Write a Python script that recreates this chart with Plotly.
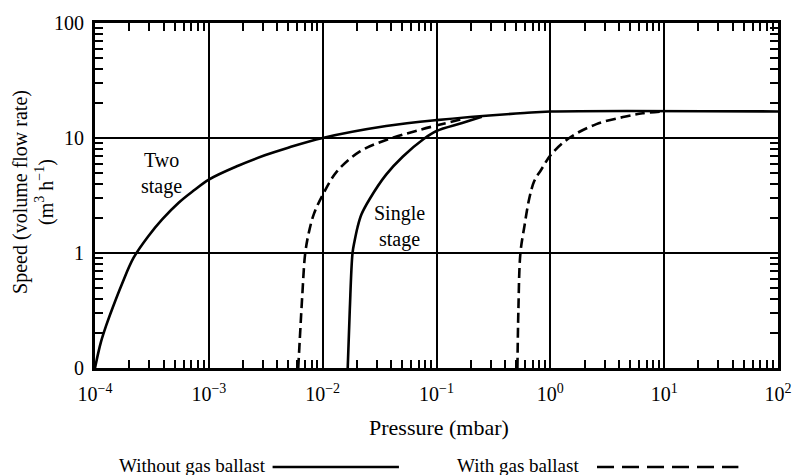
import plotly.graph_objects as go

# ---- data (pressure in mbar, speed in m^3/h) ----
two_stage_p = [1e-4, 1.062e-4, 1.127e-4, 1.246e-4, 1.432e-4, 1.715e-4, 2.178e-4, 2.94e-4, 3.89e-4,
               5.46e-4, 7.36e-4, 1e-3, 1.81e-3, 3.1e-3, 4.9e-3, 1e-2, 3.61e-2, 0.1, 0.59, 1.0, 100]
two_stage_s = [0.1, 0.132, 0.168, 0.230, 0.336, 0.530, 0.906, 1.40, 1.96,
               2.75, 3.49, 4.35, 5.74, 7.07, 8.2, 10.0, 12.7, 14.3, 16.5, 17.0, 17.0]

two_stage_gb_p = [6.1e-3, 6.36e-3, 6.62e-3, 7.03e-3, 7.61e-3, 8.41e-3, 1e-2, 1.33e-2, 2.11e-2,
                  3.61e-2, 6.98e-2, 0.168]
two_stage_gb_s = [0.1, 0.213, 0.426, 1.0, 1.55, 2.21, 3.2, 5.1, 7.6, 9.6, 11.7, 14.6]

single_stage_p = [0.0166, 0.0173, 0.0183, 0.01907, 0.02025, 0.02193, 0.02573, 0.0361, 0.0507,
                  0.0771, 0.1, 0.168, 0.25]
single_stage_s = [0.1, 0.316, 1.0, 1.27, 1.675, 2.17, 2.92, 4.8, 6.9, 9.8, 11.5, 13.5, 15.3]

single_stage_gb_p = [0.514, 0.524, 0.546, 0.592, 0.653, 0.721, 0.831, 1.03, 1.51, 2.54, 4.35, 6.49, 9.7]
single_stage_gb_s = [0.1, 0.316, 1.0, 1.71, 2.98, 4.2, 5.3, 7.3, 10.2, 13.2, 15.2, 16.4, 17.0]

x_tick_vals = [1e-4, 1e-3, 1e-2, 1e-1, 1e0, 1e1, 1e2]
x_tick_text = ["10<sup>−4</sup>", "10<sup>−3</sup>", "10<sup>−2</sup>", "10<sup>−1</sup>",
               "10<sup>0</sup>", "10<sup>1</sup>", "10<sup>2</sup>"]
y_tick_vals = [0.1, 1, 10, 100]
y_tick_text = ["0", "1", "10", "100"]

x_minor = [k * 10.0 ** e for e in range(-4, 2) for k in range(2, 10)]
y_minor = [k * 10.0 ** e for e in range(-1, 2) for k in range(2, 10)]

FONT = "Liberation Serif"
LW = 2.6
SM = 1.0

fig = go.Figure()
fig.add_trace(go.Scatter(x=two_stage_p, y=two_stage_s, mode="lines",
                         line=dict(color="black", width=LW, shape="spline", smoothing=SM)))
fig.add_trace(go.Scatter(x=two_stage_gb_p, y=two_stage_gb_s, mode="lines",
                         line=dict(color="black", width=LW, dash="10px,5px", shape="spline", smoothing=SM)))
fig.add_trace(go.Scatter(x=single_stage_p, y=single_stage_s, mode="lines",
                         line=dict(color="black", width=LW, shape="spline", smoothing=SM)))
fig.add_trace(go.Scatter(x=single_stage_gb_p, y=single_stage_gb_s, mode="lines",
                         line=dict(color="black", width=LW, dash="10px,5px", shape="spline", smoothing=SM)))

axis_common = dict(
    showline=True, linecolor="black", linewidth=3, mirror="allticks",
    showgrid=True, gridcolor="black", gridwidth=1.5,
    ticks="inside", ticklen=9, tickwidth=1.5, tickcolor="black",
    zeroline=False,
    tickfont=dict(family=FONT, size=20, color="black"),
)

fig.update_xaxes(type="log", range=[-4, 2], tickmode="array", tickvals=x_tick_vals, ticktext=x_tick_text,
                 minor=dict(tickmode="array", tickvals=x_minor, ticks="inside", ticklen=8, tickwidth=1.5,
                            tickcolor="black", showgrid=False),
                 ticklabelstandoff=6, **axis_common)
fig.update_yaxes(type="log", range=[-1, 2], tickmode="array", tickvals=y_tick_vals, ticktext=y_tick_text,
                 minor=dict(tickmode="array", tickvals=y_minor, ticks="inside", ticklen=8, tickwidth=1.5,
                            tickcolor="black", showgrid=False),
                 ticklabelstandoff=4, **axis_common)

annos = [
    dict(x=-3.419, y=0.69, xref="x", yref="y", text="Two<br>stage", showarrow=False,
         font=dict(family=FONT, size=20, color="black")),
    dict(x=-1.329, y=0.233, xref="x", yref="y", text="Single<br>stage", showarrow=False,
         font=dict(family=FONT, size=20, color="black")),
    dict(x=0.504, y=-0.172, xref="paper", yref="paper", text="Pressure (mbar)", showarrow=False,
         xanchor="center", yanchor="middle", font=dict(family=FONT, size=22, color="black")),
    dict(x=-0.091, y=0.51, xref="paper", yref="paper", text="Speed (volume flow rate)<br>(m<sup>3</sup> h<sup>−1</sup>)",
         showarrow=False, textangle=-90, xanchor="center", yanchor="middle",
         font=dict(family=FONT, size=20, color="black")),
    dict(x=0.253, y=-0.282, xref="paper", yref="paper", text="Without gas ballast", showarrow=False,
         xanchor="right", yanchor="middle", font=dict(family=FONT, size=19, color="black")),
    dict(x=0.712, y=-0.282, xref="paper", yref="paper", text="With gas ballast", showarrow=False,
         xanchor="right", yanchor="middle", font=dict(family=FONT, size=19, color="black")),
]

shapes = [
    dict(type="line", xref="paper", yref="paper", x0=0.260, x1=0.445, y0=-0.287, y1=-0.287,
         line=dict(color="black", width=2.6)),
    dict(type="line", xref="paper", yref="paper", x0=0.735, x1=0.942, y0=-0.287, y1=-0.287,
         line=dict(color="black", width=2.6, dash="17px,8px")),
]

fig.update_layout(
    width=804, height=475,
    margin=dict(l=95, r=17, t=20, b=107),
    plot_bgcolor="white", paper_bgcolor="white",
    showlegend=False,
    annotations=annos, shapes=shapes,
    font=dict(family=FONT, color="black"),
)

fig.write_html("out.html")
